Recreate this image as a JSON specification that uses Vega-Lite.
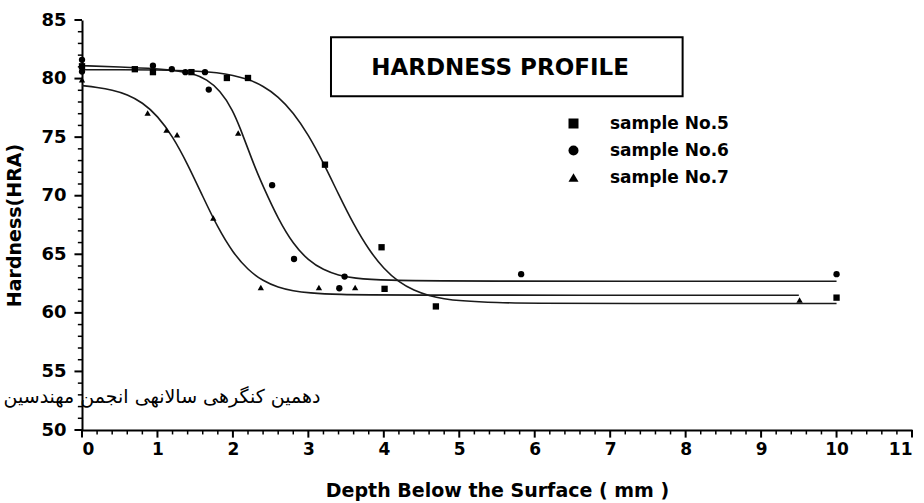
{
  "$schema": "https://vega.github.io/schema/vega-lite/v6.json",
  "width": 830,
  "height": 410,
  "autosize": {"type": "none"},
  "padding": {"left": 82, "top": 20, "right": 12, "bottom": 73},
  "background": "white",
  "config": {
    "view": {"stroke": null},
    "font": "DejaVu Sans",
    "legend": {
      "orient": "none",
      "legendX": 483,
      "legendY": 95,
      "labelFont": "DejaVu Sans",
      "labelFontWeight": "bold",
      "labelFontSize": 17,
      "labelColor": "black",
      "labelOffset": 28,
      "rowPadding": 9,
      "symbolFillColor": "black",
      "symbolStrokeColor": "black"
    }
  },
  "datasets": {
    "points": [
      {"sample": "sample No.5", "depth": 0.0, "hardness": 81.05},
      {"sample": "sample No.5", "depth": 0.70, "hardness": 80.8},
      {"sample": "sample No.5", "depth": 0.94, "hardness": 80.55},
      {"sample": "sample No.5", "depth": 1.45, "hardness": 80.55},
      {"sample": "sample No.5", "depth": 1.92, "hardness": 80.05},
      {"sample": "sample No.5", "depth": 2.2, "hardness": 80.05},
      {"sample": "sample No.5", "depth": 3.22, "hardness": 72.65},
      {"sample": "sample No.5", "depth": 3.97, "hardness": 65.6},
      {"sample": "sample No.5", "depth": 4.01, "hardness": 62.05},
      {"sample": "sample No.5", "depth": 4.69, "hardness": 60.55},
      {"sample": "sample No.5", "depth": 10.0, "hardness": 61.3},
      {"sample": "sample No.6", "depth": 0.0, "hardness": 81.6},
      {"sample": "sample No.6", "depth": 0.0, "hardness": 80.6},
      {"sample": "sample No.6", "depth": 0.94, "hardness": 81.1},
      {"sample": "sample No.6", "depth": 1.19, "hardness": 80.8},
      {"sample": "sample No.6", "depth": 1.37, "hardness": 80.55},
      {"sample": "sample No.6", "depth": 1.63, "hardness": 80.55},
      {"sample": "sample No.6", "depth": 1.68, "hardness": 79.06},
      {"sample": "sample No.6", "depth": 2.52, "hardness": 70.9},
      {"sample": "sample No.6", "depth": 2.81, "hardness": 64.6},
      {"sample": "sample No.6", "depth": 3.41, "hardness": 62.1},
      {"sample": "sample No.6", "depth": 3.48, "hardness": 63.1},
      {"sample": "sample No.6", "depth": 5.82, "hardness": 63.3},
      {"sample": "sample No.6", "depth": 10.0, "hardness": 63.3},
      {"sample": "sample No.7", "depth": 0.0, "hardness": 79.9},
      {"sample": "sample No.7", "depth": 0.87, "hardness": 77.06},
      {"sample": "sample No.7", "depth": 1.12, "hardness": 75.6},
      {"sample": "sample No.7", "depth": 1.26, "hardness": 75.2},
      {"sample": "sample No.7", "depth": 1.74, "hardness": 68.1},
      {"sample": "sample No.7", "depth": 2.07, "hardness": 75.36},
      {"sample": "sample No.7", "depth": 2.37, "hardness": 62.16},
      {"sample": "sample No.7", "depth": 3.14, "hardness": 62.16},
      {"sample": "sample No.7", "depth": 3.62, "hardness": 62.16},
      {"sample": "sample No.7", "depth": 9.51, "hardness": 61.1}
    ],
    "curves": [
      {"curve": "5", "depth": 0.0, "hardness": 80.75},
      {"curve": "5", "depth": 0.5, "hardness": 80.75},
      {"curve": "5", "depth": 1.0, "hardness": 80.74},
      {"curve": "5", "depth": 1.5, "hardness": 80.66},
      {"curve": "5", "depth": 1.8, "hardness": 80.5},
      {"curve": "5", "depth": 2.0, "hardness": 80.29},
      {"curve": "5", "depth": 2.2, "hardness": 79.95},
      {"curve": "5", "depth": 2.4, "hardness": 79.38},
      {"curve": "5", "depth": 2.6, "hardness": 78.48},
      {"curve": "5", "depth": 2.8, "hardness": 77.11},
      {"curve": "5", "depth": 3.0, "hardness": 75.21},
      {"curve": "5", "depth": 3.2, "hardness": 72.8},
      {"curve": "5", "depth": 3.4, "hardness": 70.12},
      {"curve": "5", "depth": 3.6, "hardness": 67.54},
      {"curve": "5", "depth": 3.8, "hardness": 65.38},
      {"curve": "5", "depth": 4.0, "hardness": 63.75},
      {"curve": "5", "depth": 4.2, "hardness": 62.62},
      {"curve": "5", "depth": 4.4, "hardness": 61.9},
      {"curve": "5", "depth": 4.6, "hardness": 61.46},
      {"curve": "5", "depth": 4.8, "hardness": 61.19},
      {"curve": "5", "depth": 5.0, "hardness": 61.03},
      {"curve": "5", "depth": 5.5, "hardness": 60.86},
      {"curve": "5", "depth": 6.0, "hardness": 60.82},
      {"curve": "5", "depth": 7.0, "hardness": 60.8},
      {"curve": "5", "depth": 10.0, "hardness": 60.8},
      {"curve": "6", "depth": 0.0, "hardness": 81.1},
      {"curve": "6", "depth": 0.5, "hardness": 81.0},
      {"curve": "6", "depth": 1.0, "hardness": 80.85},
      {"curve": "6", "depth": 1.3, "hardness": 80.62},
      {"curve": "6", "depth": 1.48, "hardness": 80.4},
      {"curve": "6", "depth": 1.65, "hardness": 79.95},
      {"curve": "6", "depth": 1.83, "hardness": 79.0},
      {"curve": "6", "depth": 2.0, "hardness": 77.3},
      {"curve": "6", "depth": 2.1, "hardness": 75.7},
      {"curve": "6", "depth": 2.2, "hardness": 74.0},
      {"curve": "6", "depth": 2.3, "hardness": 72.3},
      {"curve": "6", "depth": 2.4, "hardness": 70.8},
      {"curve": "6", "depth": 2.6, "hardness": 68.0},
      {"curve": "6", "depth": 2.8, "hardness": 65.86},
      {"curve": "6", "depth": 3.0, "hardness": 64.47},
      {"curve": "6", "depth": 3.2, "hardness": 63.66},
      {"curve": "6", "depth": 3.4, "hardness": 63.2},
      {"curve": "6", "depth": 3.6, "hardness": 62.96},
      {"curve": "6", "depth": 4.0, "hardness": 62.77},
      {"curve": "6", "depth": 5.0, "hardness": 62.7},
      {"curve": "6", "depth": 10.0, "hardness": 62.7},
      {"curve": "7", "depth": 0.0, "hardness": 79.4},
      {"curve": "7", "depth": 0.2, "hardness": 79.25},
      {"curve": "7", "depth": 0.4, "hardness": 79.03},
      {"curve": "7", "depth": 0.6, "hardness": 78.65},
      {"curve": "7", "depth": 0.8, "hardness": 77.97},
      {"curve": "7", "depth": 1.0, "hardness": 76.83},
      {"curve": "7", "depth": 1.2, "hardness": 75.09},
      {"curve": "7", "depth": 1.4, "hardness": 72.7},
      {"curve": "7", "depth": 1.6, "hardness": 69.94},
      {"curve": "7", "depth": 1.8, "hardness": 67.26},
      {"curve": "7", "depth": 2.0, "hardness": 65.13},
      {"curve": "7", "depth": 2.2, "hardness": 63.65},
      {"curve": "7", "depth": 2.4, "hardness": 62.72},
      {"curve": "7", "depth": 2.6, "hardness": 62.17},
      {"curve": "7", "depth": 2.8, "hardness": 61.87},
      {"curve": "7", "depth": 3.0, "hardness": 61.7},
      {"curve": "7", "depth": 3.4, "hardness": 61.56},
      {"curve": "7", "depth": 4.0, "hardness": 61.51},
      {"curve": "7", "depth": 9.5, "hardness": 61.5}
    ],
    "xmajor": [
      {"depth": 0}, {"depth": 1}, {"depth": 2}, {"depth": 3}, {"depth": 4}, {"depth": 5},
      {"depth": 6}, {"depth": 7}, {"depth": 8}, {"depth": 9}, {"depth": 10}, {"depth": 11}
    ],
    "xminor": [
      {"depth": 0.2}, {"depth": 0.4}, {"depth": 0.6}, {"depth": 0.8},
      {"depth": 1.2}, {"depth": 1.4}, {"depth": 1.6}, {"depth": 1.8},
      {"depth": 2.2}, {"depth": 2.4}, {"depth": 2.6}, {"depth": 2.8},
      {"depth": 3.2}, {"depth": 3.4}, {"depth": 3.6}, {"depth": 3.8},
      {"depth": 4.2}, {"depth": 4.4}, {"depth": 4.6}, {"depth": 4.8},
      {"depth": 5.2}, {"depth": 5.4}, {"depth": 5.6}, {"depth": 5.8},
      {"depth": 6.2}, {"depth": 6.4}, {"depth": 6.6}, {"depth": 6.8},
      {"depth": 7.2}, {"depth": 7.4}, {"depth": 7.6}, {"depth": 7.8},
      {"depth": 8.2}, {"depth": 8.4}, {"depth": 8.6}, {"depth": 8.8},
      {"depth": 9.2}, {"depth": 9.4}, {"depth": 9.6}, {"depth": 9.8},
      {"depth": 10.2}, {"depth": 10.4}, {"depth": 10.6}, {"depth": 10.8}
    ],
    "ymajor": [
      {"hardness": 50}, {"hardness": 55}, {"hardness": 60}, {"hardness": 65},
      {"hardness": 70}, {"hardness": 75}, {"hardness": 80}, {"hardness": 85}
    ],
    "yminor": [
      {"hardness": 51}, {"hardness": 52}, {"hardness": 53}, {"hardness": 54},
      {"hardness": 56}, {"hardness": 57}, {"hardness": 58}, {"hardness": 59},
      {"hardness": 61}, {"hardness": 62}, {"hardness": 63}, {"hardness": 64},
      {"hardness": 66}, {"hardness": 67}, {"hardness": 68}, {"hardness": 69},
      {"hardness": 71}, {"hardness": 72}, {"hardness": 73}, {"hardness": 74},
      {"hardness": 76}, {"hardness": 77}, {"hardness": 78}, {"hardness": 79},
      {"hardness": 81}, {"hardness": 82}, {"hardness": 83}, {"hardness": 84}
    ],
    "box": [
      {"depth": 3.30, "depth2": 7.96, "hardness": 83.53, "hardness2": 78.49}
    ],
    "notes": [
      {"depth": 5.54, "hardness": 80.9, "label": "HARDNESS PROFILE"}
    ],
    "persian": [
      {"depth": 3.16, "hardness": 52.85, "label": "دهمین کنگرهی سالانهی انجمن مهندسین"}
    ]
  },
  "layer": [
    {
      "data": {"name": "box"},
      "mark": {"type": "rect", "fill": "white", "stroke": "black", "strokeWidth": 2},
      "encoding": {
        "x": {"field": "depth", "type": "quantitative", "scale": {"domain": [0, 11], "nice": false, "zero": false},
          "axis": {
            "title": "Depth Below the Surface ( mm )",
            "titleFont": "DejaVu Sans",
            "titleFontWeight": "bold",
            "titleFontSize": 19,
            "titleColor": "black",
            "titlePadding": 24,
            "values": [0,1,2,3,4,5,6,7,8,9,10,11],
            "format": "d",
            "labelFont": "DejaVu Sans",
            "labelFontWeight": "bold",
            "labelFontSize": 17,
            "labelColor": "black",
            "labelPadding": 11,
            "ticks": false,
            "domainColor": "black",
            "domainWidth": 2,
            "grid": false
          }
        },
        "y": {"field": "hardness", "type": "quantitative", "scale": {"domain": [50, 85], "nice": false, "zero": false},
          "axis": {
            "title": "Hardness(HRA)",
            "titleFont": "DejaVu Sans",
            "titleFontWeight": "bold",
            "titleFontSize": 19,
            "titleColor": "black",
            "titlePadding": 16,
            "values": [50,55,60,65,70,75,80,85],
            "format": "d",
            "labelFont": "DejaVu Sans",
            "labelFontWeight": "bold",
            "labelFontSize": 18,
            "labelColor": "black",
            "labelPadding": 16,
            "ticks": false,
            "domainColor": "black",
            "domainWidth": 2,
            "grid": false
          }
        },
        "x2": {"field": "depth2"},
        "y2": {"field": "hardness2"}
      }
    },
    {
      "data": {"name": "xmajor"},
      "mark": {"type": "rule", "color": "black", "strokeWidth": 2},
      "encoding": {
        "x": {"field": "depth", "type": "quantitative"},
        "y": {"datum": 50, "type": "quantitative"},
        "y2": {"datum": 49.35}
      }
    },
    {
      "data": {"name": "xminor"},
      "mark": {"type": "rule", "color": "black", "strokeWidth": 1.5},
      "encoding": {
        "x": {"field": "depth", "type": "quantitative"},
        "y": {"datum": 50, "type": "quantitative"},
        "y2": {"datum": 49.62}
      }
    },
    {
      "data": {"name": "ymajor"},
      "mark": {"type": "rule", "color": "black", "strokeWidth": 2},
      "encoding": {
        "y": {"field": "hardness", "type": "quantitative"},
        "x": {"datum": 0, "type": "quantitative"},
        "x2": {"datum": -0.1}
      }
    },
    {
      "data": {"name": "yminor"},
      "mark": {"type": "rule", "color": "black", "strokeWidth": 1.5},
      "encoding": {
        "y": {"field": "hardness", "type": "quantitative"},
        "x": {"datum": 0, "type": "quantitative"},
        "x2": {"datum": -0.055}
      }
    },
    {
      "data": {"name": "notes"},
      "mark": {"type": "text", "font": "DejaVu Sans", "fontWeight": "bold", "fontSize": 23, "align": "center", "baseline": "middle", "color": "black"},
      "encoding": {
        "x": {"field": "depth", "type": "quantitative"},
        "y": {"field": "hardness", "type": "quantitative"},
        "text": {"field": "label"}
      }
    },
    {
      "data": {"name": "curves"},
      "mark": {"type": "line", "interpolate": "basis", "color": "#1a1a1a", "strokeWidth": 1.6},
      "encoding": {
        "x": {"field": "depth", "type": "quantitative"},
        "y": {"field": "hardness", "type": "quantitative"},
        "detail": {"field": "curve"}
      }
    },
    {
      "data": {"name": "points"},
      "mark": {"type": "point", "filled": true, "color": "black", "opacity": 1, "size": 40},
      "encoding": {
        "x": {"field": "depth", "type": "quantitative"},
        "y": {"field": "hardness", "type": "quantitative"},
        "shape": {
          "field": "sample",
          "type": "nominal",
          "scale": {"domain": ["sample No.5", "sample No.6", "sample No.7"], "range": ["square", "circle", "triangle-up"]},
          "legend": {"title": null}
        }
      }
    },
    {
      "data": {"name": "persian"},
      "mark": {"type": "text", "font": "DejaVu Sans", "fontSize": 19, "align": "right", "baseline": "middle", "color": "black"},
      "encoding": {
        "x": {"field": "depth", "type": "quantitative"},
        "y": {"field": "hardness", "type": "quantitative"},
        "text": {"field": "label"}
      }
    }
  ]
}
